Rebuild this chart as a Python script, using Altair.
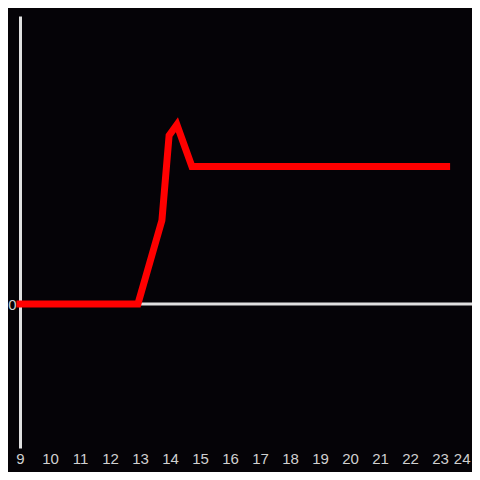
import altair as alt
import pandas as pd

x_vals = [9.0, 12.93, 13.73, 13.97, 14.23, 14.73, 23.22]
y_vals = [0.0, 0.0, 0.58, 1.17, 1.245, 0.955, 0.955]
x_ticks = list(range(9, 25))

df = pd.DataFrame({"x": x_vals, "y": y_vals})
zero_df = pd.DataFrame({"y": [0]})

x_scale = alt.Scale(domain=[9, 24.0667], nice=False, zero=False)
y_scale = alt.Scale(domain=[-1, 2], nice=False, zero=False)

zero_rule = alt.Chart(zero_df).mark_rule(color="#e0e0e0", strokeWidth=3).encode(
    y=alt.Y("y:Q", scale=y_scale)
)

line = alt.Chart(df).mark_line(color="#ff0000", strokeWidth=7, strokeCap="square").encode(
    x=alt.X("x:Q", scale=x_scale, title=None,
            axis=alt.Axis(values=x_ticks, domain=False, ticks=False, grid=False,
                          labelPadding=3, labelFontSize=15, labelColor="#d0d0d0",
                          labelFont="Liberation Sans", format="d", labelFlush=False,
                          labelAlign={"expr": "datum.value == 24 ? 'right' : 'center'"},
                          labelOverlap=False)),
    y=alt.Y("y:Q", scale=y_scale, title=None,
            axis=alt.Axis(values=[0], domain=True, domainColor="#e0e0e0", domainWidth=3,
                          ticks=False, grid=False, labelPadding=4, labelFontSize=15,
                          labelColor="#d0d0d0", labelFont="Liberation Sans", format="d")),
)

chart = alt.layer(zero_rule, line).properties(
    width=452, height=432,
    autosize=alt.AutoSizeParams(type="none"),
    padding={"left": 12, "top": 8, "right": 0, "bottom": 24},
    background="#050307",
).configure_view(stroke=None)

chart.save("out.html", embed_options={"renderer": "svg", "actions": False})
